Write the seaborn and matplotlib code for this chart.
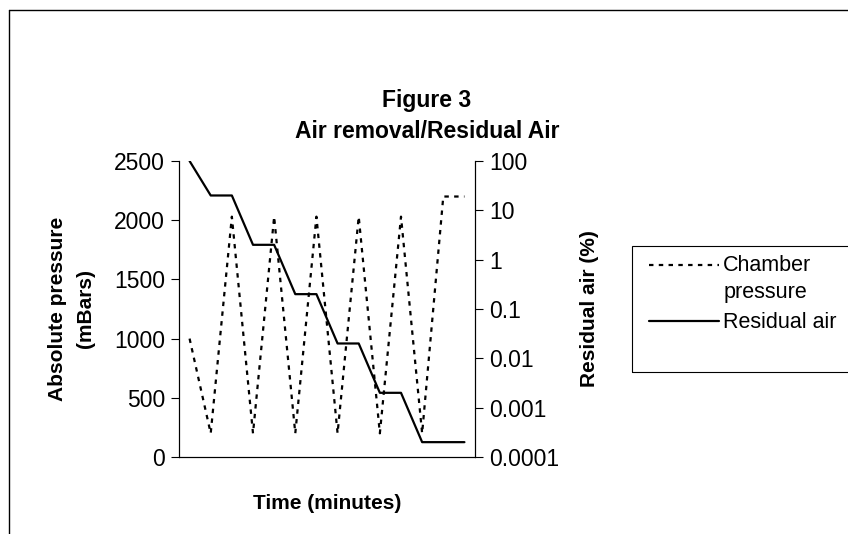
import matplotlib
matplotlib.use("Agg")
import matplotlib.pyplot as plt
import matplotlib.patches as mpatches
from matplotlib.lines import Line2D
from matplotlib.ticker import FixedLocator, FuncFormatter, NullLocator
import seaborn as sns

#data
time_step = [0, 1, 2, 3, 4, 5, 6, 7, 8, 9, 10, 11, 12, 13]
chamber_pressure = [1000, 200, 2030, 200, 2030, 200, 2030, 200, 2030, 200, 2030, 200, 2200, 2200]
residual_air = [100, 20, 20, 2, 2, 0.2, 0.2, 0.02, 0.02, 0.002, 0.002, 0.0002, 0.0002, 0.0002]
pressure_ticks = [0, 500, 1000, 1500, 2000, 2500]
residual_ticks = [0.0001, 0.001, 0.01, 0.1, 1, 10, 100]

sns.set_theme(style="white")
plt.rcParams["font.family"] = ["Liberation Sans", "DejaVu Sans"]
plt.rcParams["text.color"] = "black"

W, H = 848, 534
fig = plt.figure(figsize=(W / 100, H / 100), dpi=100)
ax = fig.add_axes([179 / W, 1 - 457 / H, (475 - 179) / W, (457 - 161) / H])
ax2 = ax.twinx()

dash = (0, (2.0, 2.4))
sns.lineplot(x=time_step, y=chamber_pressure, ax=ax, color="black", lw=1.6, linestyle=dash)
sns.lineplot(x=time_step, y=residual_air, ax=ax2, color="black", lw=1.6)

#left axis
ax.set_xlim(-0.5, 13.5)
ax.set_ylim(0, 2500)
ax.yaxis.set_major_locator(FixedLocator(pressure_ticks))
ax.xaxis.set_major_locator(NullLocator())
ax.tick_params(axis="y", left=True, direction="out", length=6, width=0.8, color="black",
               labelsize=16.5, labelcolor="black", pad=4)

#right axis (log)
ax2.set_yscale("log")
ax2.set_ylim(0.0001, 100)
ax2.yaxis.set_major_locator(FixedLocator(residual_ticks))
ax2.yaxis.set_minor_locator(NullLocator())
ax2.yaxis.set_major_formatter(FuncFormatter(lambda v, _: f"{v:g}"))
ax2.tick_params(axis="y", right=True, direction="out", length=6, width=0.8, color="black",
                labelsize=16.5, labelcolor="black", pad=4)

for a in (ax, ax2):
    a.grid(False)
    a.set_facecolor("none")
    a.spines["top"].set_visible(False)
    for s in ("left", "right", "bottom"):
        a.spines[s].set_color("black")
        a.spines[s].set_linewidth(0.8)

ax.set_xlabel("Time (minutes)", fontsize=15, fontweight="bold", color="black")
ax.xaxis.set_label_coords(0.5, -0.125)
ax.set_ylabel("Absolute pressure\n(mBars)", fontsize=15, fontweight="bold", color="black",
              linespacing=1.6)
ax.yaxis.set_label_coords(-0.284, 0.5)
ax2.set_ylabel("Residual air (%)", fontsize=15, fontweight="bold", color="black")
ax2.yaxis.set_label_coords(1.355, 0.5)

#title
fig.text(427 / W, 1 - 101 / H, "Figure 3", ha="center", va="center",
         fontsize=16.5, fontweight="bold")
fig.text(427 / W, 1 - 132 / H, "Air removal/Residual Air", ha="center", va="center",
         fontsize=16.5, fontweight="bold")

#legend
handles = [Line2D([], [], color="black", lw=1.6, linestyle=dash),
           Line2D([], [], color="black", lw=1.6)]
leg = fig.legend(handles, ["Chamber\npressure", "Residual air"], loc="upper left",
                 bbox_to_anchor=(634 / W, 1 - 240 / H), frameon=False, fontsize=15.5,
                 handlelength=3.25, handletextpad=0.2, labelspacing=0.45, borderpad=0.2)
for t in leg.get_texts():
    t.set_linespacing(1.35)
line0 = leg.get_lines()[0]
line0.set_ydata([y + 10.4 for y in line0.get_ydata()])
fig.patches.append(mpatches.Rectangle((632 / W, 1 - 372 / H), 0.5, (372 - 246) / H,
                                      transform=fig.transFigure, fill=False,
                                      edgecolor="black", lw=0.8))

#outer chart frame
fig.add_artist(Line2D([9 / W, 9 / W], [0, 1 - 10 / H], transform=fig.transFigure,
                      color="black", lw=1))
fig.add_artist(Line2D([9 / W, 1], [1 - 10 / H, 1 - 10 / H], transform=fig.transFigure,
                      color="black", lw=1))

fig.savefig("out.png", dpi=100, facecolor="white")
plt.close(fig)
